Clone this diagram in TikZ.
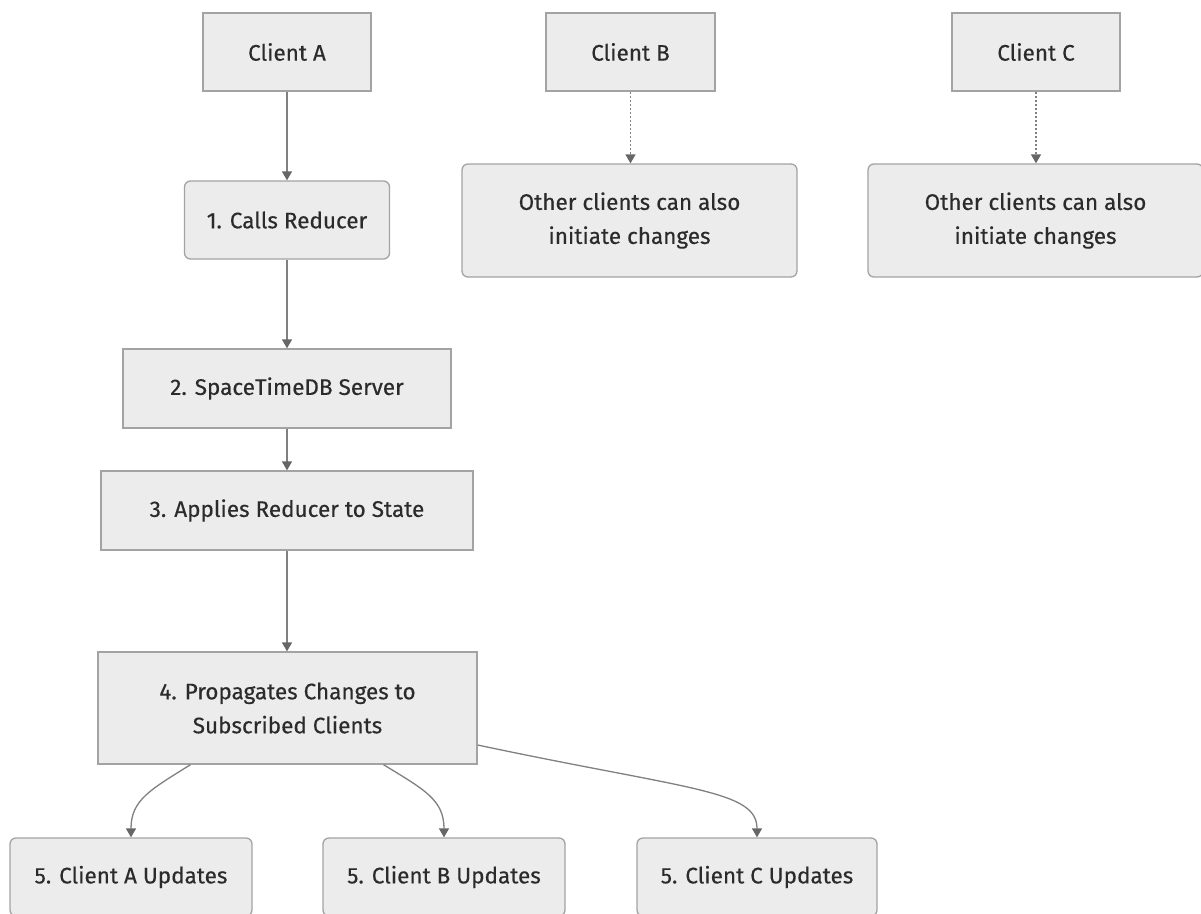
\documentclass[tikz,border=0pt]{standalone}
\usepackage{fontspec}
\setmainfont{Fira Sans}[FakeBold=0.35]
\usetikzlibrary{arrows.meta}
\definecolor{boxfill}{HTML}{ECECEC}
\definecolor{boxline}{HTML}{A3A3A3}
\definecolor{edgeline}{HTML}{808080}
\definecolor{tipfill}{HTML}{666666}
\definecolor{txt}{HTML}{2B2B2B}
\tikzset{
  x=1pt, y=-1pt,
  sqbox/.style={draw=boxline, fill=boxfill, line width=1.3pt, inner sep=0pt,
    text=txt, align=center, font=\fontsize{22.5}{34}\selectfont},
  rndbox/.style={sqbox, rounded corners=6pt},
  flow/.style={draw=edgeline, line width=1.3pt,
    -{Triangle[length=9pt,width=10pt,fill=tipfill,color=tipfill]}},
  dotflow/.style={flow, dash pattern=on 2pt off 2pt},
}
\begin{document}
\begin{tikzpicture}
\useasboundingbox (0,0) rectangle (1201,913);
% top row of clients
\node[sqbox, minimum width=168pt, minimum height=78pt] (ca) at (287,52) {Client A};
\node[sqbox, minimum width=169pt, minimum height=78pt] (cb) at (630.5,52) {Client B};
\node[sqbox, minimum width=168pt, minimum height=78pt] (cc) at (1036,52) {Client C};
% second row
\node[rndbox, minimum width=205pt, minimum height=78pt] (call) at (287,220) {1. Calls Reducer};
\node[rndbox, minimum width=335pt, minimum height=113pt] (ob) at (629.5,220.5) {Other clients can also\\initiate changes};
\node[rndbox, minimum width=335pt, minimum height=113pt] (oc) at (1035.5,220.5) {Other clients can also\\initiate changes};
% server pipeline
\node[sqbox, minimum width=328pt, minimum height=79pt] (srv) at (287,388.5) {2. SpaceTimeDB Server};
\node[sqbox, minimum width=372pt, minimum height=79pt] (app) at (287,510.5) {3. Applies Reducer to State};
\node[sqbox, minimum width=379pt, minimum height=112pt] (prop) at (287.5,708) {4. Propagates Changes to\\Subscribed Clients};
% updates
\node[rndbox, minimum width=242pt, minimum height=78pt] (ua) at (131,877) {5. Client A Updates};
\node[rndbox, minimum width=242pt, minimum height=78pt] (ub) at (444,877) {5. Client B Updates};
\node[rndbox, minimum width=240pt, minimum height=78pt] (uc) at (757,877) {5. Client C Updates};
% connectors
\draw[flow] (ca.south) -- (call.north -| ca.south);
\draw[flow] (call.south) -- (srv.north -| call.south);
\draw[flow] (srv.south) -- (app.north);
\draw[flow] (app.south) -- (prop.north -| app.south);
\draw[dotflow] (cb.south) -- (ob.north -| cb.south);
\draw[dotflow] (cc.south) -- (oc.north -| cc.south);
\draw[flow] ([xshift=-97pt]prop.south) .. controls (150,790) and (131,800) .. (ua.north);
\draw[flow] ([xshift=96pt]prop.south) .. controls (425,790) and (444,800) .. (ub.north);
\draw[flow] ([yshift=-37pt]prop.east) .. controls (690,790) and (757,790) .. (uc.north);
\end{tikzpicture}
\end{document}
